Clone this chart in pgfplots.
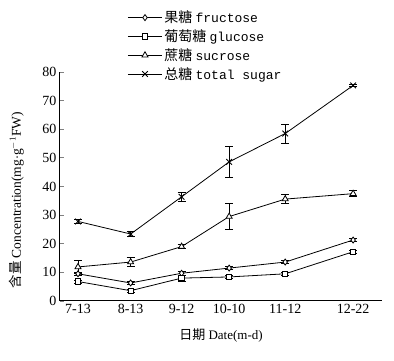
\documentclass[border=0pt]{standalone}
\usepackage{fontspec}
\setmainfont{Liberation Serif}
\setmonofont{Liberation Mono}
\newfontfamily\cjk{Noto Sans CJK SC}
\usepackage{pgfplots}
\pgfplotsset{compat=1.18}
\begin{document}
\begin{tikzpicture}
\path[use as bounding box] (-60pt,-60pt) rectangle (334pt,301pt);
\begin{axis}[
  scale only axis, width=322pt, height=229pt,
  at={(0pt,0pt)}, anchor=south west,
  axis lines*=left, axis line style={line width=1pt},
  xmin=-10.6, xmax=179, ymin=0, ymax=80,
  ytick={0,10,...,80},
  xtick={0,31,61,89,122,162},
  xticklabels={7-13,8-13,9-12,10-10,11-12,12-22},
  tick align=inside, major tick length=4pt,
  x tick style={draw=none},
  y tick style={line width=0.8pt},
  tick label style={font=\fontsize{14}{14}\selectfont},
  /pgf/number format/assume math mode=true,
  xlabel={{\cjk 日期} Date(m-d)},
  ylabel={{\cjk 含量} Concentration(mg$\cdot$g$^{-1}$FW)},
  xlabel style={at={(axis description cs:0.5,-0.15)},anchor=center,font=\fontsize{13}{13}\selectfont},
  ylabel style={at={(axis description cs:-0.135,0.44)},anchor=center,font=\fontsize{13.5}{13.5}\selectfont},
  legend style={at={(0.2,1.285)},anchor=north west,draw=none,fill=none,
    font=\fontsize{13}{13}\selectfont,row sep=1.5pt,cells={anchor=west}},
  legend image code/.code={\draw[mark repeat=2,mark phase=2,#1] plot coordinates {(0pt,0pt) (17pt,0pt) (34pt,0pt)};},
  error bars/error bar style={line width=0.8pt},
  error bars/error mark options={rotate=90,mark size=4pt,line width=0.8pt},
]
\addplot[black,line width=0.8pt,mark=diamond*,mark size=3pt,mark options={fill=white,line width=0.8pt},error bars/.cd,y dir=both,y explicit]
 coordinates {(0,9.5) +- (0,0.6) (31,6.3) +- (0,0.5) (61,9.7) +- (0,0.6) (89,11.5) +- (0,0.5) (122,13.6) +- (0,0.5) (162,21.3) +- (0,0.5)};
\addlegendentry{{\cjk\fontsize{14}{14}\selectfont 果糖}\ \texttt{fructose}}
\addplot[black,line width=0.8pt,mark=square*,mark size=2.7pt,mark options={fill=white,line width=0.8pt},error bars/.cd,y dir=both,y explicit]
 coordinates {(0,6.8) +- (0,0.5) (31,3.6) +- (0,0.5) (61,8.0) +- (0,1.0) (89,8.4) +- (0,0.5) (122,9.5) +- (0,0.5) (162,17.2) +- (0,0.6)};
\addlegendentry{{\cjk\fontsize{14}{14}\selectfont 葡萄糖}\ \texttt{glucose}}
\addplot[black,line width=0.8pt,mark=triangle*,mark size=3.5pt,mark options={fill=white,line width=0.8pt},error bars/.cd,y dir=both,y explicit]
 coordinates {(0,11.9) +- (0,2.2) (31,13.6) +- (0,1.5) (61,19.0) +- (0,0.6) (89,29.5) +- (0,4.6) (122,35.6) +- (0,1.5) (162,37.5) +- (0,1.0)};
\addlegendentry{{\cjk\fontsize{14}{14}\selectfont 蔗糖}\ \texttt{sucrose}}
\addplot[black,line width=0.8pt,mark=x,mark size=4pt,mark options={line width=0.9pt},error bars/.cd,y dir=both,y explicit]
 coordinates {(0,27.8) +- (0,0.8) (31,23.4) +- (0,1.0) (61,36.4) +- (0,1.5) (89,48.6) +- (0,5.3) (122,58.5) +- (0,3.3) (162,75.3) +- (0,0.5)};
\addlegendentry{{\cjk\fontsize{14}{14}\selectfont 总糖}\ \texttt{total sugar}}
\end{axis}
\end{tikzpicture}
\end{document}
